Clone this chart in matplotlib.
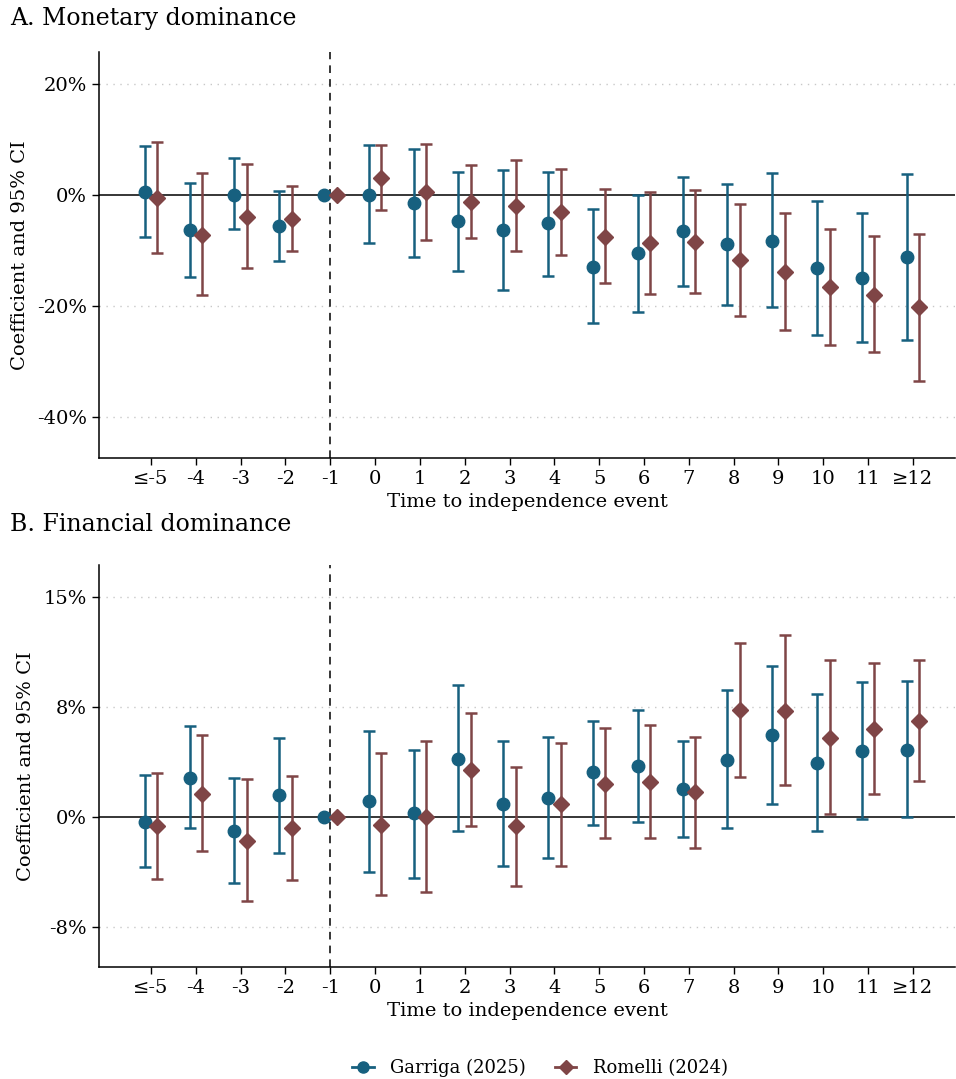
import numpy as np
import matplotlib
matplotlib.use('Agg')
import matplotlib.pyplot as plt
from matplotlib.lines import Line2D

plt.rcParams['font.family'] = ['DejaVu Serif']

labels = ['≤-5', '-4', '-3', '-2', '-1', '0', '1', '2', '3', '4', '5', '6', '7', '8', '9', '10', '11', '≥12']

# Panel A: monetary dominance (percent)
a_gar = [0.5, -6.3, 0.1, -5.6, 0.0, 0.1, -1.5, -4.6, -6.3, -5.1, -12.9, -10.5, -6.5, -8.8, -8.2, -13.1, -14.9, -11.2]
a_gar_lo = [-7.6, -14.7, -6.2, -11.8, np.nan, -8.7, -11.1, -13.6, -17.1, -14.5, -23.1, -21.1, -16.3, -19.8, -20.2, -25.3, -26.5, -26.1]
a_gar_hi = [8.8, 2.1, 6.6, 0.7, np.nan, 9.1, 8.3, 4.2, 4.5, 4.1, -2.5, 0.0, 3.3, 2.0, 3.9, -1.0, -3.3, 3.8]
a_rom = [-0.5, -7.2, -3.9, -4.3, 0.0, 3.1, 0.5, -1.2, -1.9, -3.0, -7.5, -8.7, -8.4, -11.7, -13.8, -16.5, -18.0, -20.2]
a_rom_lo = [-10.5, -18.0, -13.2, -10.1, np.nan, -2.7, -8.1, -7.8, -10.0, -10.8, -15.9, -17.8, -17.7, -21.8, -24.3, -27.0, -28.3, -33.5]
a_rom_hi = [9.6, 3.9, 5.6, 1.7, np.nan, 9.0, 9.2, 5.5, 6.3, 4.7, 1.1, 0.5, 1.0, -1.6, -3.2, -6.1, -7.4, -7.0]

# Panel B: financial dominance (percent)
b_gar = [-0.3, 2.7, -0.9, 1.5, 0.0, 1.1, 0.3, 4.0, 0.9, 1.3, 3.1, 3.5, 1.9, 3.9, 5.6, 3.7, 4.5, 4.6]
b_gar_lo = [-3.4, -0.7, -4.5, -2.4, np.nan, -3.7, -4.1, -0.9, -3.3, -2.8, -0.5, -0.35, -1.35, -0.75, 0.9, -0.9, -0.1, 0.0]
b_gar_hi = [2.9, 6.2, 2.7, 5.4, np.nan, 5.9, 4.6, 9.0, 5.2, 5.5, 6.6, 7.35, 5.2, 8.65, 10.3, 8.4, 9.2, 9.3]
b_rom = [-0.6, 1.6, -1.6, -0.75, 0.0, -0.5, 0.05, 3.2, -0.6, 0.9, 2.3, 2.4, 1.7, 7.3, 7.25, 5.4, 6.05, 6.6]
b_rom_lo = [-4.2, -2.3, -5.7, -4.3, np.nan, -5.3, -5.1, -0.6, -4.7, -3.3, -1.4, -1.4, -2.1, 2.75, 2.2, 0.2, 1.6, 2.5]
b_rom_hi = [3.0, 5.6, 2.6, 2.8, np.nan, 4.4, 5.2, 7.1, 3.4, 5.1, 6.1, 6.3, 5.5, 11.9, 12.4, 10.7, 10.5, 10.7]

blue = '#17607f'
red = '#7f4546'

fig = plt.figure(figsize=(9.56, 10.79), dpi=100)
W, H = 956, 1079
axA = fig.add_axes([99 / W, 1 - 458 / H, (955 - 99) / W, (458 - 52) / H])
axB = fig.add_axes([99 / W, 1 - 967 / H, (955 - 99) / W, (967 - 565) / H])

x = np.arange(len(labels))
off = 0.14


def draw(ax, series, ylim, yticks, yticklabels):
    for y, lo, hi, col, mk, ms, dx in series:
        y = np.array(y)
        lo = np.array(lo)
        hi = np.array(hi)
        ok = ~np.isnan(lo)
        ax.errorbar(x[ok] + dx, y[ok], yerr=[y[ok] - lo[ok], hi[ok] - y[ok]],
                    fmt='none', ecolor=col, elinewidth=1.8, capsize=4, capthick=1.8, zorder=3)
        ax.plot(x + dx, y, linestyle='none', marker=mk, color=col, markersize=ms, zorder=4)
    ax.axhline(0, color='black', lw=1.1, zorder=2)
    ax.axvline(4, color='black', lw=1.1, ls=(0, (5, 4)), zorder=2)
    for t in yticks:
        if t != 0:
            ax.axhline(t, color='#c8c8c8', lw=1.0, ls=(0, (1, 4)), zorder=1)
    ax.set_ylim(*ylim)
    ax.set_xlim(-1.16, 17.94)
    ax.set_yticks(yticks)
    ax.set_yticklabels(yticklabels, fontsize=14)
    ax.set_xticks(x)
    ax.set_xticklabels(labels, fontsize=14)
    ax.tick_params(axis='both', length=5, width=1.0, color='black')
    for s in ['top', 'right']:
        ax.spines[s].set_visible(False)
    for s in ['left', 'bottom']:
        ax.spines[s].set_linewidth(1.1)
    ax.set_ylabel('Coefficient and 95% CI', fontsize=14, labelpad=6)
    ax.set_xlabel('Time to independence event', fontsize=14, labelpad=4)


draw(axA, [(a_gar, a_gar_lo, a_gar_hi, blue, 'o', 9, -off),
           (a_rom, a_rom_lo, a_rom_hi, red, 'D', 8, off)],
     (-47.4, 25.8), [-40, -20, 0, 20], ['-40%', '-20%', '0%', '20%'])
draw(axB, [(b_gar, b_gar_lo, b_gar_hi, blue, 'o', 9, -off),
           (b_rom, b_rom_lo, b_rom_hi, red, 'D', 8, off)],
     (-10.2, 17.2), [-7.5, 0, 7.5, 15], ['-8%', '0%', '8%', '15%'])

fig.text(10 / W, 1 - 18 / H, 'A. Monetary dominance', fontsize=17, va='center', ha='left')
fig.text(10 / W, 1 - 525 / H, 'B. Financial dominance', fontsize=17, va='center', ha='left')

handles = [Line2D([], [], color=blue, marker='o', markersize=8, lw=2),
           Line2D([], [], color=red, marker='D', markersize=7, lw=2)]
fig.legend(handles, ['Garriga (2025)', 'Romelli (2024)'], loc='center',
           bbox_to_anchor=(540 / W, 1 - 1068 / H), ncol=2, frameon=False,
           fontsize=13, handlelength=1.2, columnspacing=1.6, handletextpad=0.9)

fig.savefig('out.png', dpi=100)
